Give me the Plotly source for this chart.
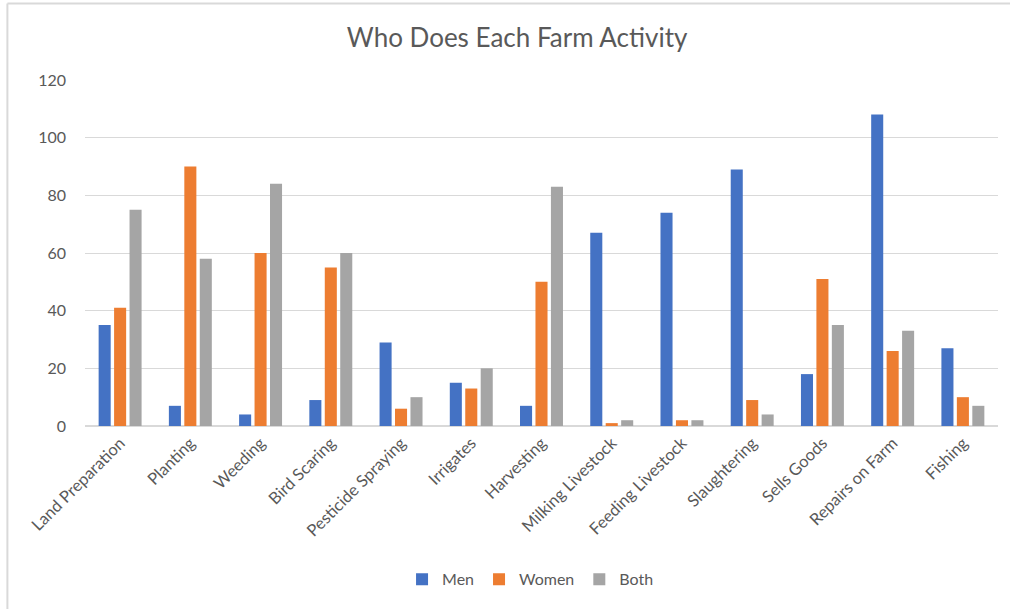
import plotly.graph_objects as go

activities = [
    "Land Preparation", "Planting", "Weeding", "Bird Scaring",
    "Pesticide Spraying", "Irrigates", "Harvesting", "Milking Livestock",
    "Feeding Livestock", "Slaughtering", "Sells Goods", "Repairs on Farm",
    "Fishing",
]
men = [35, 7, 4, 9, 29, 15, 7, 67, 74, 89, 18, 108, 27]
women = [41, 90, 60, 55, 6, 13, 50, 1, 2, 9, 51, 26, 10]
both = [75, 58, 84, 60, 10, 20, 83, 2, 2, 4, 35, 33, 7]

series = [
    ("Men", men, "#4472C4"),
    ("Women", women, "#ED7D31"),
    ("Both", both, "#A5A5A5"),
]

FONT = "Lato"
GREY_TEXT = "#595959"
FRAME = "#d9d9d9"

fig = go.Figure()
for name, vals, color in series:
    fig.add_trace(go.Bar(x=activities, y=vals, name=name,
                         marker=dict(color=color, line=dict(width=0))))

# chart frame: only the left and top edges fall inside the page
frame = [
    dict(type="line", xref="paper", yref="paper",
         x0=-0.085, x1=-0.085, y0=1.221, y1=-0.6,
         line=dict(color=FRAME, width=2), layer="below"),
    dict(type="line", xref="paper", yref="paper",
         x0=-0.085, x1=1.05, y0=1.221, y1=1.221,
         line=dict(color=FRAME, width=2), layer="below"),
]

fig.update_layout(
    width=1010, height=609,
    margin=dict(l=85, r=12, t=80, b=182.5),
    paper_bgcolor="white", plot_bgcolor="white",
    barmode="group", bargap=0.34, bargroupgap=0.22,
    font=dict(family=FONT, color=GREY_TEXT, size=15),
    title=dict(text="Who Does Each Farm Activity", x=0.512, xanchor="center",
               y=0.938, yanchor="middle",
               font=dict(family=FONT, size=26, color=GREY_TEXT)),
    showlegend=True,
    legend=dict(orientation="h", x=0.488, xanchor="center", y=-0.443,
                yanchor="middle", font=dict(size=16, color=GREY_TEXT),
                itemwidth=30, traceorder="normal"),
    xaxis=dict(tickangle=-45, showgrid=False, showline=True,
               linecolor=FRAME, linewidth=1, ticks="",
               tickfont=dict(size=16.5, color=GREY_TEXT)),
    yaxis=dict(range=[0, 120], dtick=20, showgrid=True, gridcolor=FRAME,
               gridwidth=1, zeroline=True, zerolinecolor=FRAME,
               showline=False, ticks="", ticklabelstandoff=18,
               tickfont=dict(size=16, color=GREY_TEXT)),
    shapes=frame,
)

fig.write_html("out.html")
